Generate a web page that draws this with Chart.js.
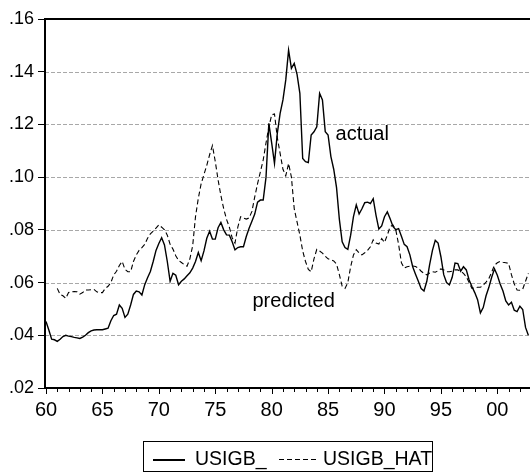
<!DOCTYPE html>
<html><head><meta charset="utf-8">
<script src="https://cdn.jsdelivr.net/npm/chart.js@4.4.1/dist/chart.umd.min.js"></script>
<style>
html,body{margin:0;padding:0;background:#fff;}
#wrap{position:relative;width:530px;height:472px;overflow:hidden;background:#fff;}
#c{position:absolute;left:0;top:0;}
#legend{position:absolute;left:143px;top:441px;width:290px;height:31px;box-sizing:border-box;border:1px solid #000;font-family:"Liberation Sans",Arial,sans-serif;font-size:19.5px;color:#000;}
#legend .ln{position:absolute;top:17px;height:1.5px;background:#000;}
#legend .dl{position:absolute;top:17px;height:1px;background:repeating-linear-gradient(to right,#000 0 5px,transparent 5px 8px);}
#legend .tx{position:absolute;top:7px;line-height:19px;white-space:nowrap;}
</style></head>
<body>
<div id="wrap">
<canvas id="c" width="530" height="472"></canvas>
<div id="legend">
  <div class="ln" style="left:9px;width:32px"></div><span class="tx" style="left:51px">USIGB_</span>
  <div class="dl" style="left:135px;width:37px"></div><span class="tx" style="left:179px">USIGB_HAT</span>
</div>
</div>
<script>
// quarterly observations 1960Q1 .. 2002Q4
const startYear = 1960;
const seriesNames = ['USIGB_', 'USIGB_HAT'];
const actual = [
 .0452,.0420,.0385,.0383,.0377,.0385,.0395,.0400,.0397,.0395,
 .0392,.0390,.0388,.0393,.0400,.0410,.0417,.0420,.0421,.0421,
 .0421,.0424,.0427,.0455,.0475,.0480,.0515,.0502,.0468,.0480,
 .0515,.0555,.0568,.0565,.0553,.0592,.0618,.0642,.0680,.0722,
 .0748,.0770,.0743,.0680,.0605,.0635,.0628,.0592,.0605,.0614,
 .0626,.0637,.0655,.0680,.0714,.0683,.0720,.0768,.0795,.0765,
 .0765,.0808,.0828,.0800,.0781,.0780,.0755,.0724,.0733,.0736,
 .0736,.0775,.0806,.0833,.0860,.0905,.0913,.0913,.1000,.1204,
 .1130,.1052,.1166,.1242,.1293,.1369,.1482,.1413,.1432,.1390,
 .1318,.1071,.1059,.1055,.1160,.1172,.1191,.1318,.1293,.1172,
 .1160,.1078,.1030,.0960,.0840,.0755,.0733,.0726,.0780,.0850,
 .0895,.0860,.0880,.0903,.0905,.0900,.0918,.0855,.0803,.0815,
 .0850,.0868,.0842,.0813,.0801,.0805,.0776,.0745,.0736,.0705,
 .0660,.0632,.0605,.0577,.0568,.0605,.0668,.0722,.0760,.0750,
 .0698,.0630,.0600,.0591,.0620,.0674,.0672,.0643,.0660,.0648,
 .0610,.0585,.0562,.0535,.0485,.0505,.0550,.0582,.0620,.0652,
 .0628,.0595,.0568,.0530,.0515,.0525,.0495,.0490,.0510,.0498,
 .0430,.0400
];
const predicted = [
 null,null,null,null,.0578,.0555,.0550,.0540,.0562,.0565,
 .0566,.0565,.0556,.0562,.0572,.0572,.0573,.0574,.0565,.0562,
 .0562,.0578,.0586,.0600,.0629,.0643,.0665,.0680,.0650,.0641,
 .0641,.0680,.0705,.0722,.0733,.0745,.0768,.0785,.0795,.0807,
 .0819,.0810,.0800,.0780,.0745,.0727,.0702,.0684,.0676,.0668,
 .0662,.0690,.0740,.0850,.0920,.0975,.1010,.1045,.1085,.1120,
 .1060,.0990,.0930,.0880,.0840,.0810,.0770,.0750,.0810,.0850,
 .0845,.0841,.0845,.0870,.0925,.0975,.1020,.1065,.1130,.1190,
 .1236,.1240,.1150,.1090,.1030,.1005,.1052,.1000,.0880,.0830,
 .0780,.0720,.0680,.0650,.0641,.0690,.0726,.0720,.0712,.0700,
 .0690,.0686,.0682,.0670,.0630,.0586,.0578,.0600,.0660,.0705,
 .0725,.0712,.0705,.0713,.0722,.0736,.0762,.0750,.0746,.0767,
 .0752,.0780,.0812,.0818,.0800,.0745,.0675,.0655,.0660,.0662,
 .0663,.0661,.0655,.0643,.0635,.0629,.0636,.0641,.0639,.0645,
 .0652,.0648,.0641,.0641,.0643,.0648,.0648,.0642,.0635,.0622,
 .0600,.0578,.0580,.0582,.0582,.0590,.0602,.0615,.0640,.0666,
 .0675,.0680,.0677,.0675,.0673,.0630,.0595,.0572,.0571,.0575,
 .0605,.0635
];
const yTickValues = [0.02,0.04,0.06,0.08,0.10,0.12,0.14,0.16];
const xLabelYears = [1960,1965,1970,1975,1980,1985,1990,1995,2000];
const annotations = [
  {text:'actual', x:1985.66, y:0.1141},
  {text:'predicted', x:1978.30, y:0.0506}
];

const FONT = '"Liberation Sans", Arial, sans-serif';
const toPts = arr => arr.map((v,i)=>({x:startYear + i/4, y:v}));

const deco = {
  id:'deco',
  beforeDatasetsDraw(chart){
    const {ctx, chartArea:a, scales:{y}} = chart;
    ctx.save();
    ctx.strokeStyle = '#a8a8a8'; ctx.lineWidth = 1; ctx.setLineDash([4,2]);
    yTickValues.forEach(v=>{
      if (v <= y.min + 1e-9 || v >= y.max - 1e-9) return;
      const py = Math.round(y.getPixelForValue(v)) + 0.5;
      ctx.beginPath(); ctx.moveTo(a.left, py); ctx.lineTo(a.right, py); ctx.stroke();
    });
    ctx.restore();
  },
  afterDatasetsDraw(chart){
    const {ctx, chartArea:a, scales:{x,y}} = chart;
    ctx.save();
    ctx.strokeStyle = '#000'; ctx.lineWidth = 2; ctx.setLineDash([]);
    ctx.beginPath();
    ctx.moveTo(a.right + 2, a.top); ctx.lineTo(a.left, a.top); ctx.lineTo(a.left, a.bottom); ctx.lineTo(a.right + 2, a.bottom);
    ctx.stroke();
    ctx.lineWidth = 1;
    for (let yr = startYear; yr <= x.max; yr++) {
      const px = Math.round(x.getPixelForValue(yr)) + 0.5;
      const len = xLabelYears.includes(yr) ? 6 : 4;
      ctx.beginPath(); ctx.moveTo(px, a.bottom); ctx.lineTo(px, a.bottom + len); ctx.stroke();
    }
    ctx.fillStyle = '#000';
    ctx.font = '20px ' + FONT;
    ctx.textBaseline = 'alphabetic'; ctx.textAlign = 'left';
    annotations.forEach(an=>{
      ctx.fillText(an.text, x.getPixelForValue(an.x), y.getPixelForValue(an.y));
    });
    ctx.restore();
  }
};

new Chart(document.getElementById('c'), {
  type:'line',
  data:{datasets:[
    {label:seriesNames[0], data:toPts(actual), borderColor:'#000', borderWidth:1.4, pointRadius:0, fill:false, tension:0},
    {label:seriesNames[1], data:toPts(predicted), borderColor:'#000', borderWidth:1.1, borderDash:[5,3], pointRadius:0, fill:false, tension:0, spanGaps:false}
  ]},
  options:{
    responsive:false, animation:false, devicePixelRatio:1,
    layout:{padding:{top:19,right:0,bottom:54,left:0}},
    plugins:{legend:{display:false}, tooltip:{enabled:false}},
    scales:{
      x:{type:'linear', min:1959.911, max:2002.896,
        grid:{display:true, drawOnChartArea:false, drawTicks:true, tickLength:6, tickColor:'rgba(0,0,0,0)'},
        border:{display:false},
        afterBuildTicks(s){ s.ticks = xLabelYears.map(v=>({value:v})); },
        ticks:{autoSkip:false, maxRotation:0, padding:4, color:'#000', font:{family:FONT, size:20},
          callback:(v)=> String(v % 100).padStart(2,'0')},
        afterFit(s){ s.height = 30; }
      },
      y:{min:0.02, max:0.16,
        grid:{display:true, drawOnChartArea:false, drawTicks:true, tickLength:7, tickColor:'#000'},
        border:{display:false},
        afterBuildTicks(s){ s.ticks = yTickValues.map(v=>({value:v})); },
        ticks:{padding:4, color:'#000', font:{family:FONT, size:18},
          callback:(v)=> v.toFixed(2).replace(/^0/,'')},
        afterFit(s){ s.width = 45; }
      }
    }
  },
  plugins:[deco]
});
</script>
</body></html>
